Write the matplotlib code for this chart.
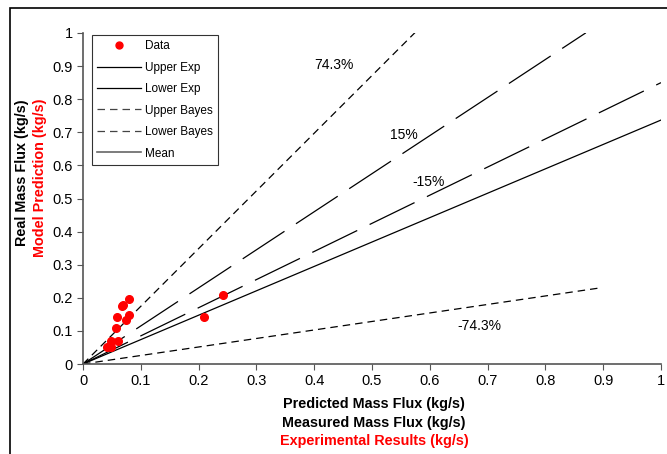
import numpy as np
import matplotlib.pyplot as plt
from matplotlib.lines import Line2D
from matplotlib.patches import Rectangle

plt.rcParams['font.family'] = ['Liberation Sans', 'DejaVu Sans']

# Measured points (experimental vs model)
data_x = [0.041, 0.048, 0.048, 0.061, 0.057, 0.059, 0.067, 0.070, 0.080, 0.080, 0.075, 0.210, 0.243]
data_y = [0.052, 0.050, 0.069, 0.069, 0.109, 0.142, 0.175, 0.178, 0.195, 0.148, 0.133, 0.143, 0.208]

# Bound lines: (slope, x end)
upper_exp = (1.15, 0.87)
lower_exp = (0.85, 1.0)
upper_bayes = (1.743, 0.58)
lower_bayes = (0.257, 0.89)
mean_line = (0.737, 1.0)

ticks = [0, 0.1, 0.2, 0.3, 0.4, 0.5, 0.6, 0.7, 0.8, 0.9, 1]
tick_labels = ['0', '0.1', '0.2', '0.3', '0.4', '0.5', '0.6', '0.7', '0.8', '0.9', '1']

fig = plt.figure(figsize=(6.67, 4.54), dpi=100)
ax = fig.add_axes([83/667, 1-364/454, 578/667, 331/454])


def bound(slope_end):
    s, xe = slope_end
    x = np.array([0, xe])
    return x, s * x


long_dash = (40, 11)
short_dash = (6, 4)

x, y = bound(upper_exp)
ax.plot(x, y, color='black', lw=0.9, dashes=long_dash)
x, y = bound(lower_exp)
ax.plot(x, y, color='black', lw=0.9, dashes=long_dash)
x, y = bound(upper_bayes)
ax.plot(x, y, color='black', lw=0.9, dashes=short_dash)
x, y = bound(lower_bayes)
ax.plot(x, y, color='black', lw=0.9, dashes=short_dash)
x, y = bound(mean_line)
ax.plot(x, y, color='black', lw=0.9)
ax.plot(data_x, data_y, 'o', color='red', ms=5.5, zorder=5, clip_on=False)

ax.text(0.435, 0.903, '74.3%', ha='center', va='center', fontsize=10)
ax.text(0.555, 0.692, '15%', ha='center', va='center', fontsize=10)
ax.text(0.598, 0.55, '-15%', ha='center', va='center', fontsize=10)
ax.text(0.685, 0.115, '-74.3%', ha='center', va='center', fontsize=10)

ax.set_xlim(0, 1)
ax.set_ylim(0, 1)
ax.set_xticks(ticks)
ax.set_xticklabels(tick_labels)
ax.set_yticks(ticks)
ax.set_yticklabels(tick_labels)
ax.tick_params(direction='out', length=4, labelsize=10.5, color='#555555')
for side in ['top', 'right']:
    ax.spines[side].set_visible(False)
for side in ['left', 'bottom']:
    ax.spines[side].set_color('#555555')
    ax.spines[side].set_linewidth(1.2)

handles = [
    Line2D([], [], marker='o', color='red', ls='none', ms=5),
    Line2D([], [], color='black', lw=0.9),
    Line2D([], [], color='black', lw=0.9),
    Line2D([], [], color='#444444', lw=0.9, dashes=short_dash),
    Line2D([], [], color='#444444', lw=0.9, dashes=short_dash),
    Line2D([], [], color='#666666', lw=1.2),
]
labels = ['Data', 'Upper Exp', 'Lower Exp', 'Upper Bayes', 'Lower Bayes', 'Mean']
leg = ax.legend(handles, labels, loc='upper left', bbox_to_anchor=(9/578, 0.994),
                fontsize=8.5, frameon=True, fancybox=False, edgecolor='black',
                handlelength=3.7, labelspacing=0.8, borderpad=0.45, handletextpad=0.35,
                borderaxespad=0)
leg.get_frame().set_linewidth(0.8)

# axis titles
fig.text(22/667, 1-173/454, 'Real Mass Flux (kg/s)', rotation=90, ha='center', va='center',
         fontsize=10.4, fontweight='bold')
fig.text(40/667, 1-178/454, 'Model Prediction (kg/s)', rotation=90, ha='center', va='center',
         fontsize=10.4, fontweight='bold', color='red')
fig.text(374/667, 1-404/454, 'Predicted Mass Flux (kg/s)', ha='center', va='center',
         fontsize=10.4, fontweight='bold')
fig.text(374/667, 1-423/454, 'Measured Mass Flux (kg/s)', ha='center', va='center',
         fontsize=10.4, fontweight='bold')
fig.text(374/667, 1-441/454, 'Experimental Results (kg/s)', ha='center', va='center',
         fontsize=10.4, fontweight='bold', color='red')

# chart area border
fig.patches.append(Rectangle((10/667, -0.1), 1.0, 1 - 8/454 + 0.1, transform=fig.transFigure,
                             fill=False, edgecolor='black', lw=1.2))

fig.savefig('out.png', dpi=100)
